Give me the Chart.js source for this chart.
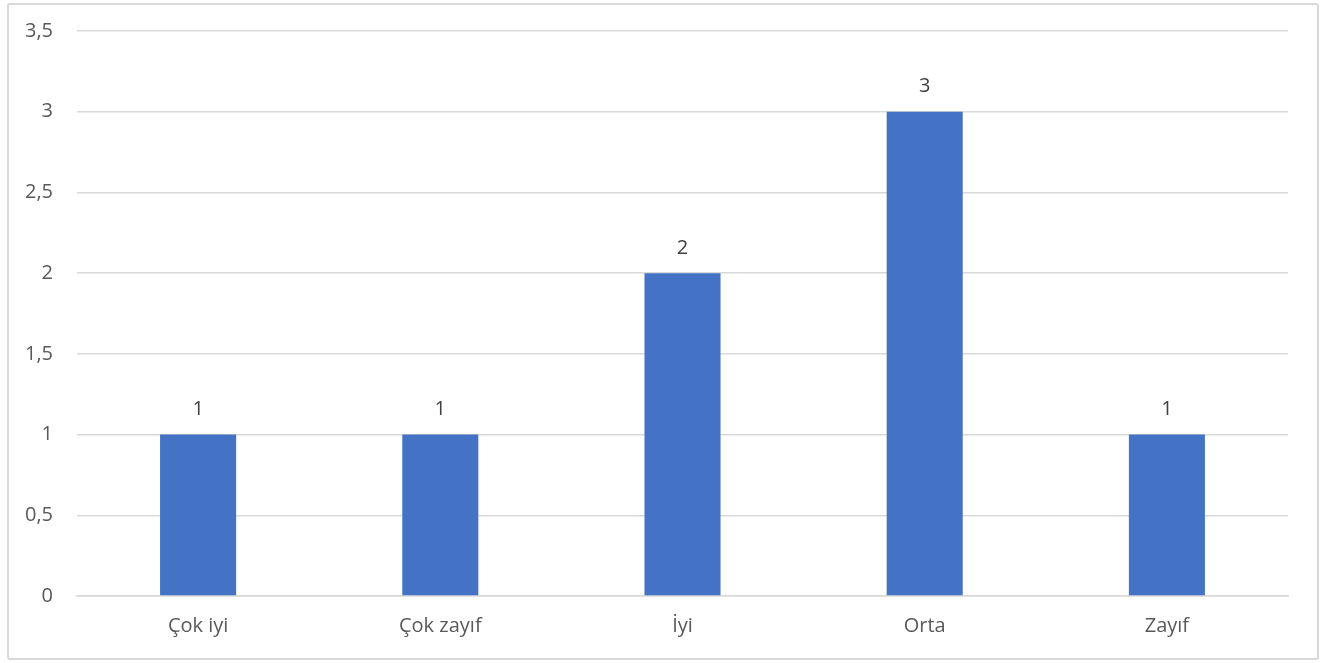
<!DOCTYPE html>
<html>
<head>
<meta charset="utf-8">
<script src="https://cdn.jsdelivr.net/npm/chart.js@4"></script>
<style>
  html, body { margin: 0; padding: 0; background: #fff; }
  #frame {
    position: absolute; left: 7px; top: 3px; width: 1308px; height: 653px;
    border: 2px solid #d9d9d9; border-radius: 3px;
  }
  #wrap { position: absolute; left: 0; top: 0; width: 1341px; height: 663px; }
</style>
</head>
<body>
<div id="frame"></div>
<div id="wrap"><canvas id="chart"></canvas></div>
<script>
const categories = ['Çok iyi', 'Çok zayıf', 'İyi', 'Orta', 'Zayıf'];
const values = [1, 1, 2, 3, 1];
const yTicks = [0, 0.5, 1, 1.5, 2, 2.5, 3, 3.5];

const fontFamily = '"Open Sans", "Noto Sans", sans-serif';
const fontSize = 20;

// draws the value above each bar
const barLabels = {
    id: 'barLabels',
    afterDatasetsDraw(chart) {
        const ctx = chart.ctx;
        const meta = chart.getDatasetMeta(0);
        ctx.save();
        ctx.font = fontSize + 'px ' + fontFamily;
        ctx.fillStyle = '#404040';
        ctx.textAlign = 'center';
        ctx.textBaseline = 'middle';
        meta.data.forEach((bar, i) => {
            ctx.fillText(String(values[i]), bar.x, bar.y - 25);
        });
        ctx.restore();
    }
};

const ctx = document.getElementById('chart').getContext('2d');
new Chart(ctx, {
    type: 'bar',
    data: {
        labels: categories,
        datasets: [{
            data: values,
            backgroundColor: '#4472C4',
            categoryPercentage: 1,
            barPercentage: 0.314,
        }],
    },
    options: {
        responsive: true,
        maintainAspectRatio: false,
        animation: false,
        layout: { padding: { top: 31, right: 53, bottom: 0, left: 0 } },
        plugins: { legend: { display: false }, tooltip: { enabled: false } },
        scales: {
            x: {
                grid: { display: false, drawTicks: false },
                border: { color: '#d9d9d9', width: 1.5 },
                ticks: { color: '#595959', font: { size: fontSize, family: fontFamily }, padding: 18 },
                afterFit(scale) { scale.height = 67; },
            },
            y: {
                min: 0,
                max: 3.5,
                afterBuildTicks(scale) { scale.ticks = yTicks.map(v => ({ value: v })); },
                grid: { color: '#d9d9d9', lineWidth: 1.5, drawTicks: false },
                border: { display: false },
                ticks: {
                    color: '#595959',
                    font: { size: fontSize, family: fontFamily },
                    padding: 24,
                    callback: v => String(v).replace('.', ','),
                },
                afterFit(scale) {
                    scale.width = 77;
                    scale.paddingTop = 0;
                    scale.paddingBottom = 0;
                },
            },
        },
    },
    plugins: [barLabels],
});
</script>
</body>
</html>
